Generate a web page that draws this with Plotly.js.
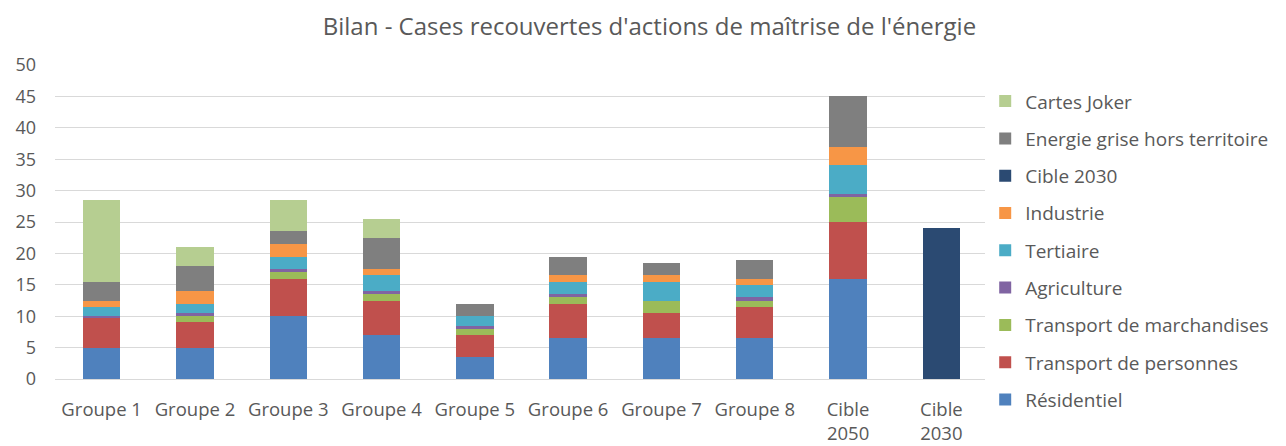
<!DOCTYPE html>
<html>
<head>
<meta charset="utf-8">
<script src="https://cdn.plot.ly/plotly-3.0.1.min.js"></script>
<style>html,body{margin:0;padding:0;background:#fff;}#chart{width:1286px;height:446px;}</style>
</head>
<body>
<div id="chart"></div>
<script>
const categories = ["Groupe 1","Groupe 2","Groupe 3","Groupe 4","Groupe 5","Groupe 6","Groupe 7","Groupe 8","Cible<br>2050","Cible<br>2030"];
const residentiel = [5, 5, 10, 7, 3.5, 6.5, 6.5, 6.5, 16, 0];
const transportPersonnes = [4.75, 4, 6, 5.5, 3.5, 5.5, 4, 5, 9, 0];
const transportMarchandises = [0, 1, 1, 1, 1, 1, 2, 1, 4, 0];
const agriculture = [0.25, 0.5, 0.5, 0.5, 0.5, 0.5, 0, 0.5, 0.5, 0];
const tertiaire = [1.5, 1.5, 2, 2.5, 1.5, 2, 3, 2, 4.5, 0];
const industrie = [1, 2, 2, 1, 0, 1, 1, 1, 3, 0];
const cible2030 = [0, 0, 0, 0, 0, 0, 0, 0, 0, 24];
const energieGrise = [3, 4, 2, 5, 2, 3, 2, 3, 8, 0];
const cartesJoker = [13, 3, 5, 3, 0, 0, 0, 0, 0, 0];

const seriesNames = ["Résidentiel","Transport de personnes","Transport de marchandises","Agriculture","Tertiaire","Industrie","Cible 2030","Energie grise hors territoire","Cartes Joker"];
const seriesValues = [residentiel, transportPersonnes, transportMarchandises, agriculture, tertiaire, industrie, cible2030, energieGrise, cartesJoker];
const seriesColors = ["#4F81BD","#C0504D","#9BBB59","#8064A2","#4BACC6","#F79646","#2B4A72","#7F7F7F","#B6CE91"];

const data = seriesNames.map((n, i) => ({
  type: "bar",
  name: n,
  x: categories,
  y: seriesValues[i],
  marker: {color: seriesColors[i], line: {width: 0}},
  legendgroup: "g" + i,
  legendrank: 100 - i,
  hoverinfo: "name+y"
}));

const layout = {
  width: 1286, height: 446,
  paper_bgcolor: "#fff", plot_bgcolor: "#fff",
  font: {family: "Open Sans, sans-serif", size: 18, color: "#595959"},
  title: {text: "Bilan - Cases recouvertes d'actions de maîtrise de l'énergie", x: 0.505, xanchor: "center", y: 0.94, yanchor: "middle", font: {size: 24, color: "#595959"}},
  barmode: "stack",
  bargap: 0.6,
  margin: {l: 55, r: 298, t: 65, b: 67},
  xaxis: {showgrid: false, showline: true, linecolor: "#D9D9D9", linewidth: 1, ticks: "", tickfont: {size: 18.5}, ticklabelstandoff: 14},
  yaxis: {range: [0, 50], dtick: 5, showgrid: true, gridcolor: "#D9D9D9", gridwidth: 1, zeroline: false, showline: false, ticks: "", tickfont: {size: 18}, ticklabelstandoff: 18},
  legend: {x: 0.997, xanchor: "left", y: 0.945, yanchor: "top", traceorder: "grouped", tracegroupgap: 9.6, maxheight: 440, font: {size: 19, color: "#595959"}},
  showlegend: true
};

Plotly.newPlot("chart", data, layout, {displayModeBar: false, staticPlot: true});
</script>
</body>
</html>
